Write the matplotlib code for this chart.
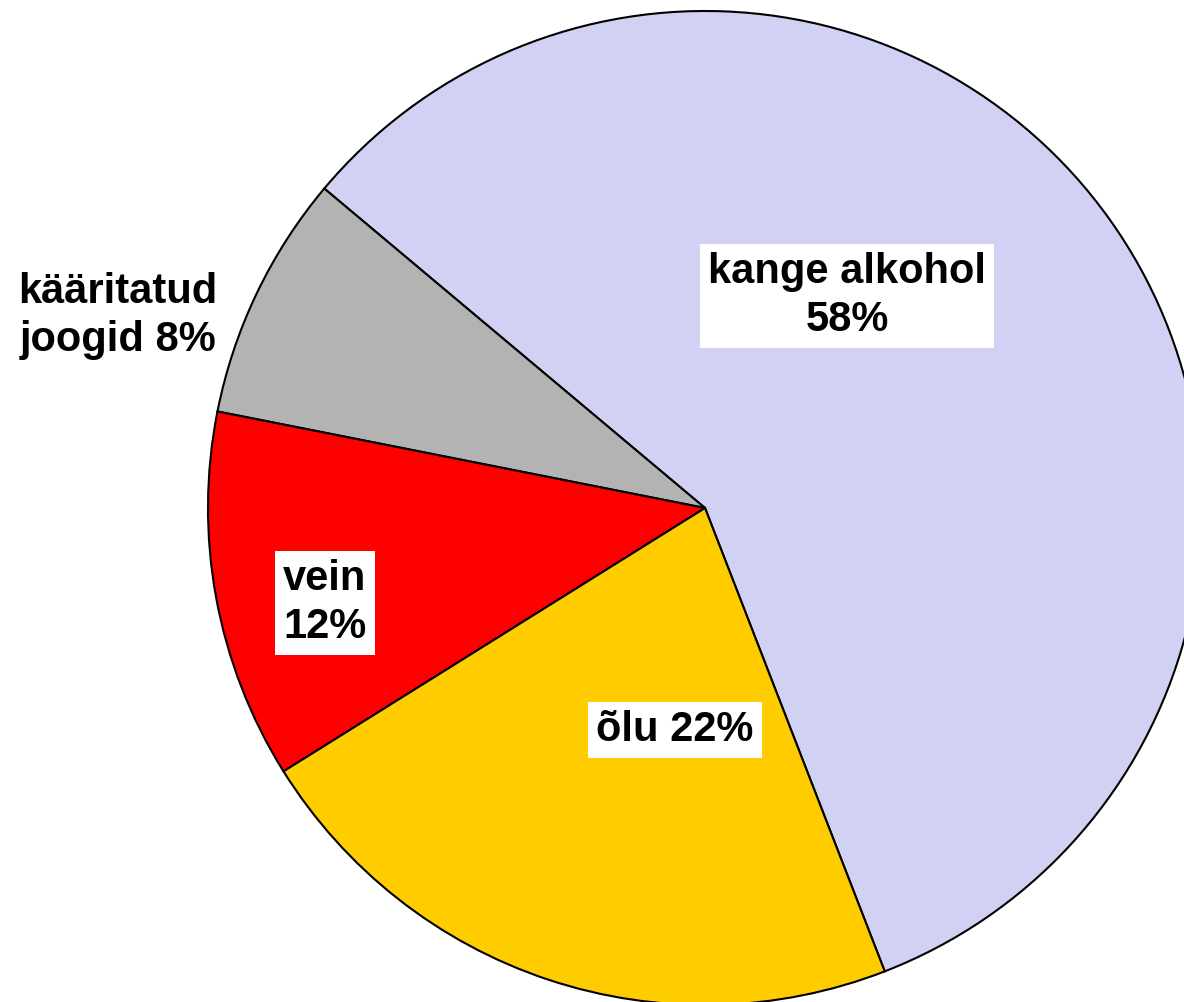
import matplotlib
matplotlib.use("Agg")
import matplotlib.pyplot as plt

categories = ["kange alkohol", "kääritatud\njoogid", "vein", "õlu"]
values = [58, 8, 12, 22]
colors = ["#d1d1f3", "#b3b3b3", "#ff0000", "#ffcc00"]
label_texts = ["kange alkohol\n58%", "kääritatud\njoogid 8%", "vein\n12%", "õlu 22%"]

W, H = 1184, 1002
fig = plt.figure(figsize=(W / 100, H / 100), dpi=100)
ax = fig.add_axes([0, 0, 1, 1])
ax.set_axis_off()

wedges, _ = ax.pie(values, colors=colors, startangle=-68.8, counterclock=True,
                   center=(705, H - 508), radius=497,
                   wedgeprops=dict(edgecolor="black", linewidth=1.5))
ax.set_xlim(0, W)
ax.set_ylim(0, H)
ax.set_aspect("auto")

label_pos = [(847, H - 296), (118, H - 316), (325, H - 603), (675, H - 730)]
boxed = [True, False, True, True]
for txt, (x, y), b in zip(label_texts, label_pos, boxed):
    kw = dict(ha="center", va="center", fontsize=30, fontweight="bold",
              family="Liberation Sans", linespacing=1.25)
    if b:
        kw["bbox"] = dict(boxstyle="square,pad=0.2", facecolor="white", edgecolor="none")
    ax.text(x, y, txt, **kw)

fig.savefig("out.png", dpi=100)
